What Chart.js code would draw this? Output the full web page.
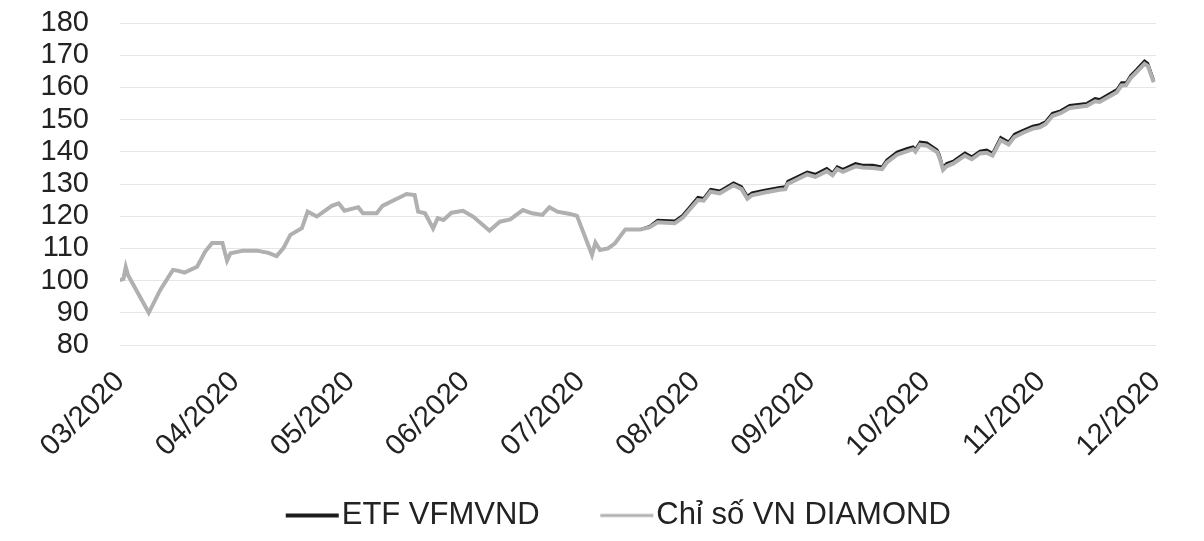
<!DOCTYPE html>
<html>
<head>
<meta charset="utf-8">
<script src="https://cdn.jsdelivr.net/npm/chart.js@4/dist/chart.umd.min.js"></script>
<style>
body{margin:0;background:#fff;}
#wrap{width:1204px;height:541px;}
</style>
</head>
<body>
<div id="wrap"><canvas id="c"></canvas></div>
<script>
/* DATA */
const months=['03/2020','04/2020','05/2020','06/2020','07/2020','08/2020','09/2020','10/2020','11/2020','12/2020'];

// time in months since 03/2020
const t=[0,0.03,0.05,0.07,0.25,0.35,0.46,0.50,0.56,0.67,0.74,0.80,0.89,0.93,0.96,
1.07,1.19,1.29,1.36,1.42,1.48,1.58,1.63,1.71,1.84,1.90,1.95,
2.07,2.11,2.23,2.28,2.37,2.49,2.56,2.59,2.65,2.72,2.76,2.81,2.88,2.98,
3.07,3.21,3.30,3.39,3.50,3.58,3.67,3.73,3.80,3.91,3.97,
4.00,4.10,4.13,4.17,4.24,4.30,4.39,4.52,4.60,4.67,4.82,4.89,4.94,
5.02,5.07,5.13,5.21,5.33,5.40,5.45,5.49,5.59,5.73,5.78,5.80,5.97,
6.04,6.14,6.19,6.23,6.28,6.39,6.45,6.54,6.62,6.66,6.75,6.84,6.89,6.91,6.95,
7.01,7.10,7.12,7.15,7.18,7.24,7.34,7.40,7.47,7.53,7.58,7.65,7.72,7.77,7.85,7.93,7.99,
8.04,8.10,8.17,8.25,8.40,8.47,8.51,8.66,8.70,8.74,8.78,8.83,8.90,8.93,8.98];

const etf=[100.2,100.5,104.2,101.7,90.0,97.1,103.3,103.1,102.5,104.3,109.0,111.7,111.7,106.2,108.5,
109.3,109.3,108.6,107.6,110.1,114.2,116.3,121.4,119.9,123.2,124.0,121.7,
122.8,120.9,120.9,123.2,124.8,126.9,126.6,121.4,120.9,116.2,119.4,118.8,121.1,121.7,
119.8,115.5,118.3,119.0,121.9,120.9,120.4,122.8,121.4,120.7,120.1,
117.3,108.0,111.8,109.5,110.0,111.6,115.9,115.9,116.9,118.8,118.6,120.4,122.5,
125.9,125.6,128.4,127.9,130.4,129.2,126.3,127.3,128.1,129.0,129.2,130.9,133.8,
133.1,134.9,133.5,135.4,134.6,136.4,135.9,135.9,135.4,137.5,140.0,141.1,141.6,140.8,143.1,
142.8,140.6,139.0,135.2,136.4,137.2,139.7,138.5,140.3,140.6,139.6,144.5,143.1,145.5,146.8,148.0,148.5,
149.4,152.0,152.8,154.5,155.1,156.6,156.3,159.4,161.5,161.5,163.8,165.6,168.3,167.5,162.3];

const vnd=[100.2,100.5,104.2,101.7,90.0,97.1,103.3,103.1,102.5,104.3,109.0,111.7,111.7,106.2,108.5,
109.3,109.3,108.6,107.6,110.1,114.2,116.3,121.4,119.9,123.2,124.0,121.7,
122.8,120.9,120.9,123.2,124.8,126.9,126.6,121.4,120.9,116.2,119.4,118.8,121.1,121.7,
119.8,115.5,118.3,119.0,121.9,120.9,120.4,122.8,121.4,120.7,120.1,
117.3,108.0,111.8,109.5,110.0,111.6,115.9,115.9,116.5,118.1,117.8,119.6,121.7,
125.0,124.8,127.6,127.1,129.6,128.4,125.4,126.5,127.3,128.2,128.4,130.0,133.0,
132.2,134.0,132.7,134.6,133.8,135.5,135.1,135.0,134.6,136.6,139.1,140.2,140.8,140.0,142.2,
141.9,139.8,138.1,134.4,135.5,136.4,138.8,137.7,139.5,139.7,138.8,143.6,142.3,144.6,146.0,147.2,147.6,
148.6,151.1,152.0,153.6,154.3,155.7,155.5,158.5,160.6,160.7,162.9,164.7,167.3,166.6,161.6];

const yTicks={min:80,max:180,step:10};

/* CHART */
const fam='"Liberation Sans", Arial, sans-serif';
const tickFont={family:fam,size:29};
const legFont={family:fam,size:31};

// legend sample: line sits close to the text, like the original
function legLine(color,w){
const c=document.createElement('canvas');
c.width=130;c.height=10;
const g=c.getContext('2d');
g.strokeStyle=color;g.lineWidth=w;
g.beginPath();g.moveTo(57,5);g.lineTo(110,5);g.stroke();
return c;
}

new Chart(document.getElementById('c'),{
type:'line',
data:{
datasets:[
{label:'ETF VFMVND',data:t.map((x,i)=>({x:x,y:etf[i]})),borderColor:'#1c1c1c',borderWidth:2.5,order:1,pointStyle:legLine('#1c1c1c',4)},
{label:'Chỉ số VN DIAMOND',data:t.map((x,i)=>({x:x,y:vnd[i]})),borderColor:'#b0b0b0',borderWidth:4,order:0,pointStyle:legLine('#b0b0b0',3)}
]
},
options:{
responsive:true,
maintainAspectRatio:false,
animation:false,
elements:{point:{radius:0},line:{tension:0}},
layout:{padding:{left:18,right:10,top:23,bottom:0}},
plugins:{
tooltip:{enabled:false},
legend:{
position:'bottom',
labels:{
font:legFont,color:'#222',
usePointStyle:true,pointStyleWidth:65,
padding:36,
sort:(a,b)=>a.datasetIndex-b.datasetIndex
}
}
},
scales:{
x:{
type:'linear',min:0,max:months.length-1,
grid:{display:false},
border:{display:false},
afterFit:s=>{s.height=119;s.paddingLeft=0;s.paddingRight=0;},
ticks:{
stepSize:1,autoSkip:false,maxRotation:45,minRotation:45,
font:tickFont,color:'#222',padding:12,
callback:v=>months[v]
}
},
y:{
min:yTicks.min,max:yTicks.max,
grid:{color:'#e6e6e6',drawTicks:false},
border:{display:false},
afterFit:s=>{s.width=102;s.paddingTop=0;s.paddingBottom=0;},
ticks:{stepSize:yTicks.step,autoSkip:false,font:tickFont,color:'#222',padding:31}
},
y2:{
position:'right',
grid:{display:false},
border:{display:false},
ticks:{display:false},
afterFit:s=>{s.width=38;s.paddingTop=0;s.paddingBottom=0;}
}
}
}
});
</script>
</body>
</html>
